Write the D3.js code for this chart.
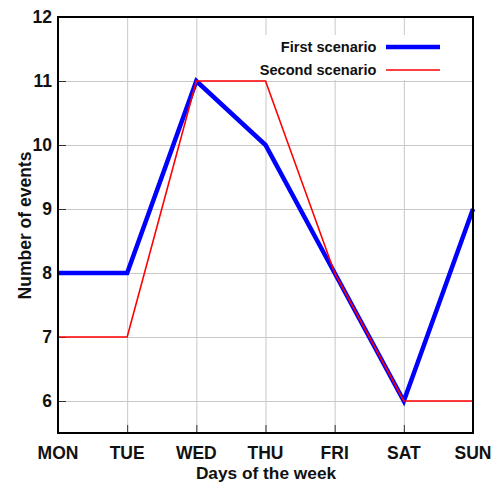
<!DOCTYPE html>
<html>
<head>
<meta charset="utf-8">
<script src="https://cdn.jsdelivr.net/npm/d3@7"></script>
<style>
  html, body { margin: 0; padding: 0; background: #fff; }
  svg { display: block; font-family: "Liberation Sans", Arial, sans-serif; font-weight: bold; }
</style>
</head>
<body>
<svg id="chart" width="492" height="485"></svg>
<script>
// Weekly event counts for two scenarios
const days = ["MON", "TUE", "WED", "THU", "FRI", "SAT", "SUN"];
const firstScenario = [8, 8, 11, 10, 8, 6, 9];
const secondScenario = [7, 7, 11, 11, 8, 6, 6];
const yTicks = [6, 7, 8, 9, 10, 11, 12];

const svg = d3.select("#chart");
const margin = { left: 58, top: 17, right: 19, bottom: 52 };
const W = 492, H = 485;
const innerW = W - margin.left - margin.right;
const innerH = H - margin.top - margin.bottom;

const x = d3.scalePoint().domain(days).range([0, innerW]);
const y = d3.scaleLinear().domain([5.5, 12]).range([innerH, 0]);

const g = svg.append("g").attr("transform", `translate(${margin.left},${margin.top})`);

// grid
g.append("g").selectAll("line").data(days).join("line")
  .attr("x1", d => x(d) + 0.5).attr("x2", d => x(d) + 0.5)
  .attr("y1", 0).attr("y2", innerH)
  .attr("stroke", "#c8c8c8").attr("stroke-width", 1);
g.append("g").selectAll("line").data(yTicks).join("line")
  .attr("x1", 0).attr("x2", innerW)
  .attr("y1", d => y(d) + 0.5).attr("y2", d => y(d) + 0.5)
  .attr("stroke", "#c8c8c8").attr("stroke-width", 1);

// inward ticks
g.append("g").selectAll("line").data(days).join("line")
  .attr("x1", d => x(d) + 0.5).attr("x2", d => x(d) + 0.5)
  .attr("y1", innerH).attr("y2", innerH - 8)
  .attr("stroke", "#333").attr("stroke-width", 1);
g.append("g").selectAll("line").data(yTicks).join("line")
  .attr("x1", 0).attr("x2", 8)
  .attr("y1", d => y(d) + 0.5).attr("y2", d => y(d) + 0.5)
  .attr("stroke", "#333").attr("stroke-width", 1);

// legend background
const legend = g.append("g");
legend.append("rect")
  .attr("x", 195).attr("y", 18).attr("width", 196).attr("height", 45)
  .attr("fill", "#fff");

// series lines
const line = d3.line().x((d, i) => x(days[i])).y(d => y(d));
g.append("path").datum(firstScenario)
  .attr("d", line).attr("fill", "none")
  .attr("stroke", "#0000ff").attr("stroke-width", 4.5).attr("stroke-linejoin", "miter");
g.append("path").datum(secondScenario)
  .attr("d", line).attr("fill", "none")
  .attr("stroke", "#ff0000").attr("stroke-width", 1.6);

// legend entries
const legendItems = [
  { name: "First scenario", color: "#0000ff", width: 4.5, y: 30 },
  { name: "Second scenario", color: "#ff0000", width: 1.6, y: 53 }
];
legendItems.forEach(it => {
  legend.append("text")
    .attr("x", 318.5).attr("y", it.y).attr("dy", "0.36em")
    .attr("text-anchor", "end").attr("font-size", 14.6).attr("fill", "#111")
    .text(it.name);
  legend.append("line")
    .attr("x1", 328).attr("x2", 382).attr("y1", it.y).attr("y2", it.y)
    .attr("stroke", it.color).attr("stroke-width", it.width);
});

// frame
g.append("rect").attr("x", 0).attr("y", 0).attr("width", innerW).attr("height", innerH)
  .attr("fill", "none").attr("stroke", "#000").attr("stroke-width", 2);

// tick labels
g.append("g").selectAll("text").data(yTicks).join("text")
  .attr("x", -6).attr("y", d => y(d)).attr("dy", "0.36em")
  .attr("text-anchor", "end").attr("font-size", 17.5).attr("fill", "#111")
  .text(d => d);
g.append("g").selectAll("text").data(days).join("text")
  .attr("x", d => x(d)).attr("y", innerH + 26)
  .attr("text-anchor", "middle").attr("font-size", 17.5).attr("fill", "#111")
  .text(d => d);

// axis titles
svg.append("text")
  .attr("x", 266).attr("y", 479)
  .attr("text-anchor", "middle").attr("font-size", 17.3).attr("fill", "#111")
  .text("Days of the week");
svg.append("text")
  .attr("transform", `translate(31,225.5) rotate(-90)`)
  .attr("text-anchor", "middle").attr("font-size", 17.5).attr("fill", "#111")
  .text("Number of events");
</script>
</body>
</html>
